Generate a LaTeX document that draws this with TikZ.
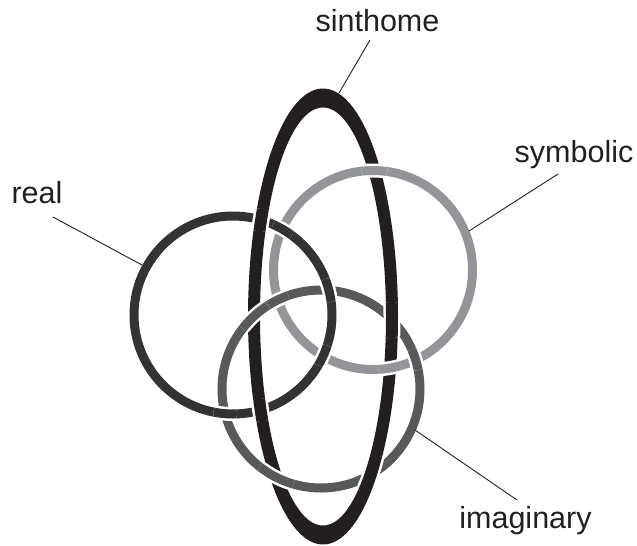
\documentclass[tikz,border=0pt]{standalone}
\usepackage{fontspec}
\setmainfont{Liberation Sans}
\definecolor{sint-col}{HTML}{231F20}
\definecolor{real-col}{HTML}{333333}
\definecolor{imag-col}{HTML}{58595B}
\definecolor{symb-col}{HTML}{939598}

\begin{document}
\begin{tikzpicture}[x=1pt,y=-1pt,
  ring/.style={line width=9pt},
  ontop/.style={preaction={draw=white,line width=14pt}},
  sintring/.style={fill=sint-col,even odd rule},
  sintontop/.style={preaction={draw=white,line width=5pt}},
  leader/.style={draw=sint-col,line width=0.9pt},
  lbl/.style={inner sep=0pt,anchor=base,text=sint-col,font=\fontsize{30.5}{36}\selectfont}]
  \useasboundingbox (0,0) rectangle (637,546);

  % Centre
  \coordinate (real) at (233,315);
  \coordinate (symb) at (373,270);
  \coordinate (imag) at (321,389);
  \coordinate (sint) at (323,316.5);

  % Ringe
  \draw[ring,real-col] (real) circle[radius=99pt];
  \draw[ring,symb-col] (symb) circle[radius=99.5pt];
  \draw[ring,imag-col] (imag) circle[radius=99pt];
  \fill[sintring] (sint) ellipse[x radius=75pt,y radius=228pt]
    (sint) ellipse[x radius=63pt,y radius=209pt];

  % Krydsninger: real ligger over
  \foreach \x/\y/\r in {282.7/229.4/11, 323.3/355.6/11, 328.8/290.3/12, 225.2/413.7/12} {
    \begin{scope}
      \clip (\x,\y) circle[radius=\r pt];
      \draw[ring,ontop,real-col] (real) circle[radius=99pt];
    \end{scope}
  }
  % imaginary ligger over
  \foreach \x/\y/\r in {278.2/299.5/11, 415.8/359.5/11, 254/316/17, 276/477/19} {
    \begin{scope}
      \clip (\x,\y) circle[radius=\r pt];
      \draw[ring,ontop,imag-col] (imag) circle[radius=99pt];
    \end{scope}
  }
  % symbolic ligger over
  \foreach \x/\y/\r in {374.5/170.5/13, 390/368/12} {
    \begin{scope}
      \clip (\x,\y) circle[radius=\r pt];
      \draw[ring,ontop,symb-col] (symb) circle[radius=99.5pt];
    \end{scope}
  }
  % sinthome ligger over
  \foreach \x/\y/\r in {261/220/12, 260.6/410/12, 392/320/18, 371/474/20} {
    \begin{scope}
      \clip (\x,\y) circle[radius=\r pt];
      \fill[sintring,sintontop] (sint) ellipse[x radius=75pt,y radius=228pt]
        (sint) ellipse[x radius=63pt,y radius=209pt];
    \end{scope}
  }

  % Etiketter
  \node[lbl] (sinthome label) at (377.5,31) {sinthome};
  \node[lbl] (real label) at (37,203) {real};
  \node[lbl] (symbolic label) at (574,162) {symbolic};
  \node[lbl] (imaginary label) at (525.5,528) {imaginary};

  \coordinate (sinthome tip) at (339,93);
  \coordinate (real tip) at (142,265);
  \coordinate (symbolic tip) at (469,231);
  \coordinate (imaginary tip) at (415,430);

  \draw[leader] ([shift={(-7.5,9)}]sinthome label.base) -- (sinthome tip);
  \draw[leader] ([shift={(16,14)}]real label.base) -- (real tip);
  \draw[leader] ([shift={(-16,12)}]symbolic label.base) -- (symbolic tip);
  \draw[leader] ([shift={(-8.5,-28)}]imaginary label.base) -- (imaginary tip);
\end{tikzpicture}
\end{document}
